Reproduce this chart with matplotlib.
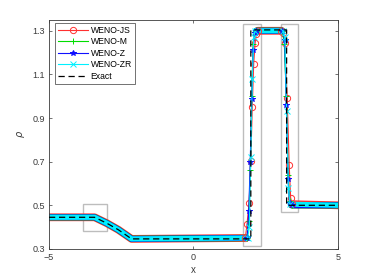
import numpy as np
import matplotlib
matplotlib.use('Agg')
import matplotlib.pyplot as plt
from matplotlib.lines import Line2D
from matplotlib.patches import Rectangle

plt.rcParams['font.family'] = ['Liberation Sans', 'DejaVu Sans']

# exact solution (Lax problem)
x_exact = [-5.0, -3.42, -3.0, -2.6, -2.14, 1.99, 1.99, 3.23, 3.23, 5.0]
rho_exact = [0.445, 0.445, 0.418, 0.388, 0.346, 0.346, 1.304, 1.304, 0.5, 0.5]

# smooth part shared by all schemes
x_left = [-5.0, -3.42, -3.0, -2.6, -2.14]
rho_left = [0.445, 0.445, 0.418, 0.388, 0.346]
x_end, rho_end = 5.0, 0.5

# points through the contact and the shock, per scheme
x_c_js = [1.80, 1.86, 1.93, 1.99, 2.04, 2.09, 2.14, 2.18, 2.23]
rho_c_js = [0.35, 0.416, 0.511, 0.705, 0.95, 1.15, 1.245, 1.285, 1.30]
x_s_js = [3.05, 3.12, 3.17, 3.25, 3.32, 3.37, 3.43]
rho_s_js = [1.30, 1.29, 1.243, 0.99, 0.683, 0.533, 0.505]

x_c_m = [1.86, 1.92, 1.97, 2.02, 2.07, 2.12, 2.18]
rho_c_m = [0.35, 0.43, 0.66, 1.0, 1.24, 1.295, 1.30]
x_s_m = [3.08, 3.15, 3.22, 3.28, 3.33, 3.40]
rho_s_m = [1.30, 1.24, 1.0, 0.64, 0.52, 0.5]

x_c_z = [1.86, 1.92, 1.97, 2.02, 2.07, 2.12, 2.18]
rho_c_z = [0.35, 0.475, 0.70, 0.985, 1.21, 1.29, 1.30]
x_s_z = [3.08, 3.16, 3.22, 3.28, 3.33, 3.40]
rho_s_z = [1.30, 1.26, 0.96, 0.62, 0.51, 0.5]

x_c_zr = [1.88, 1.94, 1.99, 2.04, 2.09, 2.14]
rho_c_zr = [0.35, 0.40, 0.72, 1.08, 1.27, 1.30]
x_s_zr = [3.10, 3.17, 3.23, 3.29, 3.35]
rho_s_zr = [1.30, 1.27, 0.93, 0.58, 0.505]

labels = ['WENO-JS', 'WENO-M', 'WENO-Z', 'WENO-ZR']
colors = ['#ff3030', '#00dd00', '#1010ff', '#00f0ff']
markers = ['o', '+', '*', 'x']
msizes = [4.5, 4.5, 3.8, 3.8]
band_lw = [5.6, 4.6, 4.3, 3.7]
schemes = [(x_c_js, rho_c_js, x_s_js, rho_s_js),
           (x_c_m, rho_c_m, x_s_m, rho_s_m),
           (x_c_z, rho_c_z, x_s_z, rho_s_z),
           (x_c_zr, rho_c_zr, x_s_zr, rho_s_zr)]

# zoom boxes (x0, x1, y0, y1)
boxes = [(-3.81, -3.0, 0.381, 0.506),
         (1.71, 2.33, 0.315, 1.332),
         (3.03, 3.63, 0.47, 1.332)]

fig = plt.figure(figsize=(3.74, 2.8), dpi=100)
ax = fig.add_axes([0.131, 0.111, 0.772, 0.818])

axc = '#3a3a3a'
for (x0, x1, y0, y1) in boxes:
    ax.add_patch(Rectangle((x0, y0), x1 - x0, y1 - y0, fill=False,
                           edgecolor='#bdbdbd', lw=1.0, zorder=1))

handles = []
for (xc, rc, xs, rs), lab, col, mk, ms, lw in zip(schemes, labels, colors, markers,
                                                  msizes, band_lw):
    bx = x_left + [xc[0], np.nan, xc[-1], xs[0], np.nan, xs[-1], x_end]
    br = rho_left + [rc[0], np.nan, rc[-1], rs[0], np.nan, rs[-1], rho_end]
    ax.plot(bx, br, color=col, lw=lw, solid_capstyle='round',
            solid_joinstyle='round', zorder=2)
    kw = dict(color=col, lw=0.8, marker=mk, ms=ms, mew=0.7, zorder=3)
    if mk == 'o':
        kw['mfc'] = 'none'
    ax.plot(xc, rc, **kw)
    ax.plot(xs, rs, **kw)
    handles.append(Line2D([], [], label=lab, **kw))

ax.plot(x_exact, rho_exact, color='k', lw=0.9, ls=(0, (5, 3)), zorder=4)
handles.append(Line2D([], [], color='k', lw=0.9, ls=(0, (5, 3)), label='Exact'))

ax.set_xlim(-5, 5)
ax.set_ylim(0.3, 1.35)
ax.set_xticks([-5, 0, 5])
ax.set_yticks([0.3, 0.5, 0.7, 0.9, 1.1, 1.3])
ax.set_yticklabels(['0.3', '0.5', '0.7', '0.9', '1.1', '1.3'])
ax.tick_params(direction='in', length=2.5, width=0.5, top=True, right=True,
               labelsize=6.5, colors=axc, pad=3)
for s in ax.spines.values():
    s.set_color(axc)
    s.set_linewidth(0.6)
ax.set_xlabel('x', fontsize=7, color=axc, labelpad=2)
ax.set_ylabel(r'$\rho$', fontsize=7, color=axc, labelpad=4)

leg = ax.legend(handles=handles, loc='upper left', bbox_to_anchor=(0.022, 0.987),
                borderaxespad=0, fontsize=6.2, handlelength=3.4, handletextpad=0.35,
                labelspacing=0.28, borderpad=0.35, fancybox=False, framealpha=1)
leg.get_frame().set_edgecolor(axc)
leg.get_frame().set_linewidth(0.5)

fig.savefig('out.png', dpi=100)
